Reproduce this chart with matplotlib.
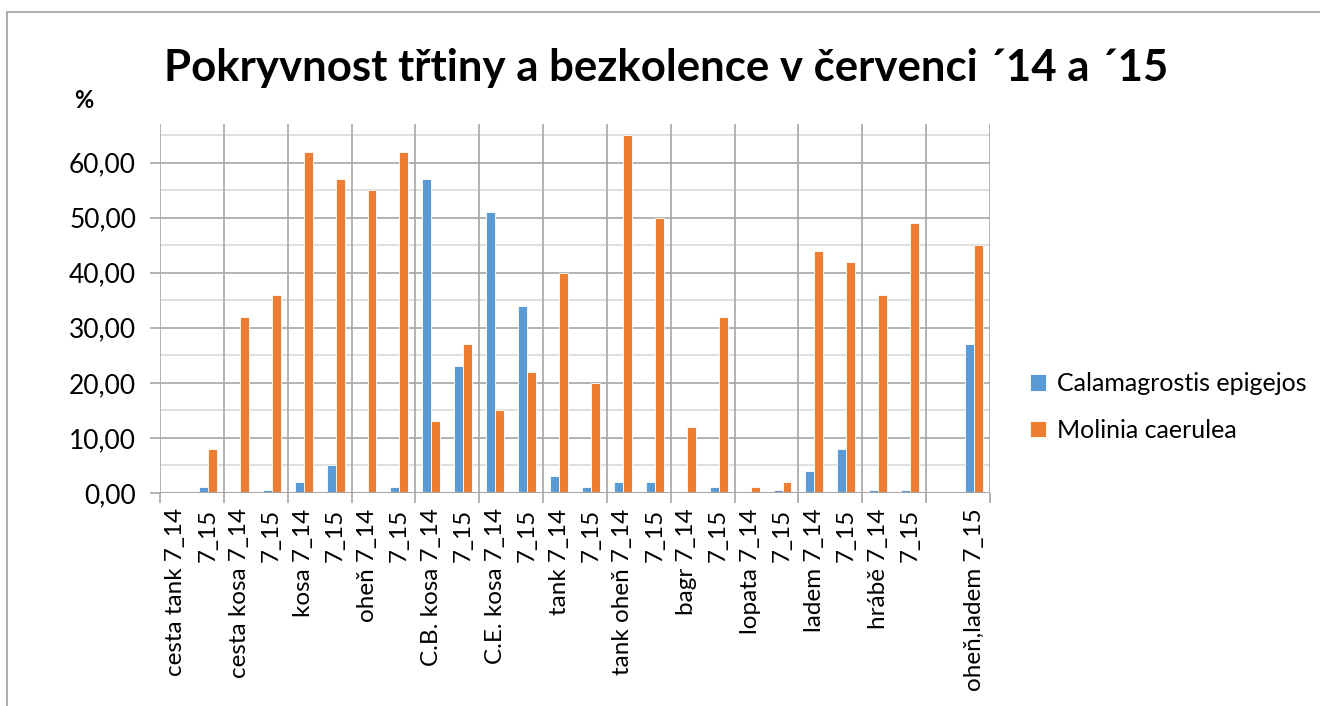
import matplotlib
matplotlib.use("Agg")
import numpy as np
import matplotlib.pyplot as plt
from matplotlib.patches import Rectangle
from matplotlib.ticker import FixedLocator, FuncFormatter

plt.rcParams["font.family"] = ["Lato", "DejaVu Sans"]

TITLE = "Pokryvnost třtiny a bezkolence v červenci ´14 a ´15"

CATEGORIES = [
    "cesta tank 7_14", "7_15", "cesta kosa 7_14", "7_15",
    "kosa 7_14", "7_15", "oheň 7_14", "7_15",
    "C.B. kosa 7_14", "7_15", "C.E. kosa 7_14", "7_15",
    "tank 7_14", "7_15", "tank oheň 7_14", "7_15",
    "bagr 7_14", "7_15", "lopata 7_14", "7_15",
    "ladem 7_14", "7_15", "hrábě 7_14", "7_15",
    "", "oheň,ladem 7_15",
]
CALAMAGROSTIS = [0, 1, 0, 0.5, 2, 5, 0, 1, 57, 23, 51, 34, 3, 1,
                 2, 2, 0, 1, 0, 0.5, 4, 8, 0.5, 0.5, 0, 27]
MOLINIA = [0, 8, 32, 36, 62, 57, 55, 62, 13, 27, 15, 22, 40, 20,
           65, 50, 12, 32, 1, 2, 44, 42, 36, 49, 0, 45]

BLUE = "#5B9BD5"
ORANGE = "#ED7D31"
MAJOR_GRID = "#A6A6A6"
MINOR_GRID = "#D9D9D9"

W, H = 1320, 706
fig = plt.figure(figsize=(W / 100, H / 100), dpi=100)

# chart frame (runs off the right and bottom edge like the screenshot)
fig.patches.append(Rectangle((7 / W, -0.05), 1.2, 1 - 12 / H + 0.05, transform=fig.transFigure,
                             fill=False, edgecolor="#A0A0A0", linewidth=1.2))

ax = fig.add_axes([160 / W, 1 - 493 / H, (990 - 160) / W, (493 - 124) / H])

x = np.arange(len(CATEGORIES))
bw = 0.28
ax.bar(x - bw / 2, CALAMAGROSTIS, width=bw, color=BLUE, edgecolor="white", linewidth=0.6,
       label="Calamagrostis epigejos", zorder=3)
ax.bar(x + bw / 2, MOLINIA, width=bw, color=ORANGE, edgecolor="white", linewidth=0.6,
       label="Molinia caerulea", zorder=3)

ax.set_xlim(-0.5, len(CATEGORIES) - 0.5)
ax.set_ylim(0, 67)

# horizontal gridlines: major every 10, minor every 5
for v in np.arange(5, 66, 10):
    ax.axhline(v, color=MINOR_GRID, linewidth=1.2, zorder=1)
for v in np.arange(10, 61, 10):
    ax.axhline(v, color=MAJOR_GRID, linewidth=1.2, zorder=1)
ax.axhline(0, color=MAJOR_GRID, linewidth=1.5, zorder=4)

# vertical gridlines between groups of two
bounds = np.arange(-0.5, len(CATEGORIES), 2)
for b in bounds:
    ax.axvline(b, color=MAJOR_GRID, linewidth=1.2, zorder=1)

for s in ax.spines.values():
    s.set_visible(False)

ax.yaxis.set_major_locator(FixedLocator(np.arange(0, 61, 10)))
ax.yaxis.set_major_formatter(FuncFormatter(lambda v, p: f"{v:.2f}".replace(".", ",")))
ax.tick_params(axis="y", length=7.2, width=1.2, color=MAJOR_GRID, pad=10, labelsize=19,
               labelcolor="#000000")

ax.set_xticks(x)
ax.set_xticklabels(CATEGORIES, rotation=90, ha="center", va="top", fontsize=17.5)
ax.tick_params(axis="x", length=0, pad=11)
ax.set_xticks(bounds, minor=True)
ax.tick_params(axis="x", which="minor", length=7.2, width=1.2, color=MAJOR_GRID)

fig.text(666 / W, 1 - 68 / H, TITLE, ha="center", va="center", fontsize=31.5, fontweight="bold")
fig.text(74 / W, 1 - 101 / H, "%", ha="left", va="center", fontsize=17, fontweight="bold")

fig.legend(loc="center left", bbox_to_anchor=(1012 / W, 1 - 407 / H), frameon=False,
           fontsize=18, handlelength=0.65, handleheight=0.65, handletextpad=0.45,
           labelspacing=0.95, borderpad=0.2)

fig.savefig("out.png", dpi=100)
